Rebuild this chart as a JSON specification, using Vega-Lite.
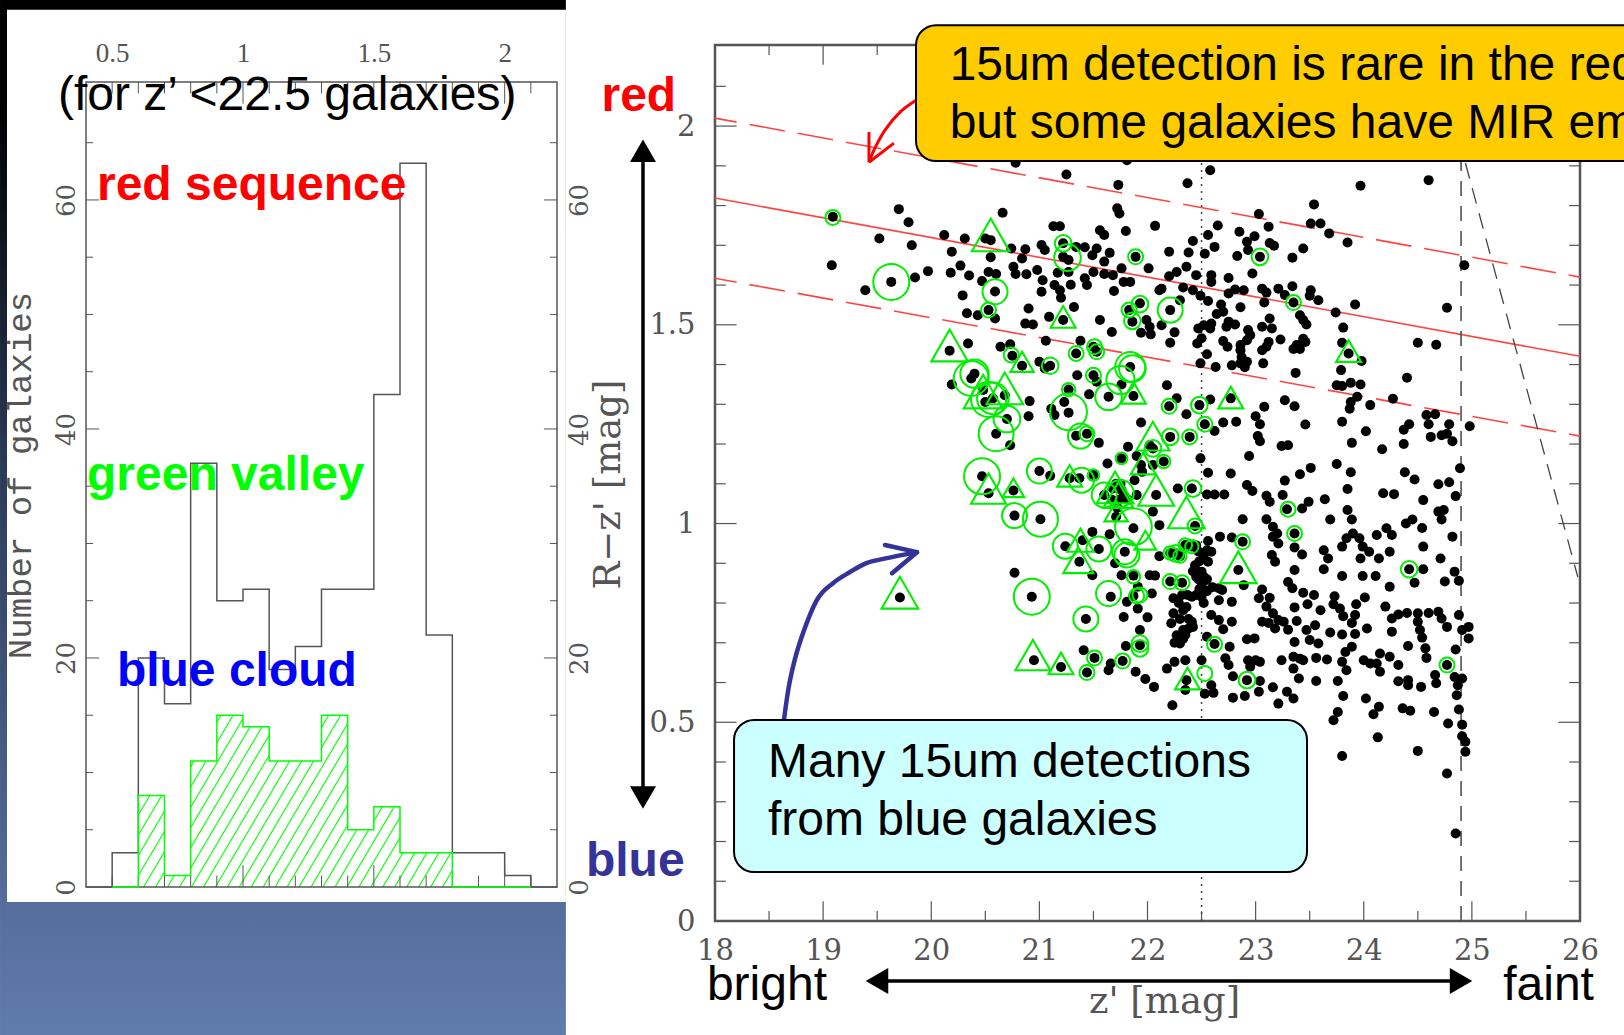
{"$schema":"https://vega.github.io/schema/vega-lite/v6.json","width":1624,"height":1035,"padding":0,"autosize":{"type":"none"},"background":"#ffffff","config":{"view":{"stroke":null},"axis":{"grid":false,"ticks":false,"domain":false,"titleFontWeight":"normal","labelFlush":false,"labelOverlap":false}},
"datasets":{
"black":[{"x":0.4,"y":0},{"x":0.5,"y":3},{"x":0.6,"y":20},{"x":0.7,"y":16},{"x":0.8,"y":37},{"x":0.9,"y":25},{"x":1.0,"y":26},{"x":1.1,"y":19},{"x":1.2,"y":21},{"x":1.3,"y":26},{"x":1.4,"y":26},{"x":1.5,"y":43},{"x":1.6,"y":63.2},{"x":1.7,"y":22},{"x":1.8,"y":3},{"x":1.9,"y":3},{"x":2.0,"y":1},{"x":2.1,"y":0},{"x":2.2,"y":0}],
"green":[{"x":0.5,"y":0},{"x":0.6,"y":8},{"x":0.7,"y":1},{"x":0.8,"y":11},{"x":0.9,"y":15},{"x":1.0,"y":14},{"x":1.1,"y":11},{"x":1.2,"y":11},{"x":1.3,"y":15},{"x":1.4,"y":5},{"x":1.5,"y":7},{"x":1.6,"y":3},{"x":1.7,"y":3},{"x":1.8,"y":0},{"x":1.9,"y":0},{"x":2.0,"y":0},{"x":2.1,"y":0}],
"dots":[
{"x":19.09,"y":1.772},{"x":19.70,"y":1.791},{"x":19.79,"y":1.758},{"x":19.52,"y":1.717},{"x":19.82,"y":1.700},{"x":19.08,"y":1.650},{"x":19.63,"y":1.608},{"x":19.39,"y":1.587},{"x":19.85,"y":1.619},{"x":19.97,"y":1.635},{"x":20.12,"y":1.726},{"x":20.31,"y":1.717},{"x":20.19,"y":1.684},{"x":20.27,"y":1.649},{"x":20.18,"y":1.631},{"x":20.35,"y":1.624},{"x":20.50,"y":1.717},{"x":20.55,"y":1.713},{"x":20.66,"y":1.782},{"x":20.55,"y":1.670},{"x":20.53,"y":1.633},{"x":20.60,"y":1.628},{"x":20.47,"y":1.610},{"x":20.29,"y":1.574},{"x":20.59,"y":1.584},{"x":20.33,"y":1.529},{"x":20.43,"y":1.524},{"x":20.53,"y":1.537},{"x":20.59,"y":1.516},{"x":20.74,"y":1.692},{"x":20.87,"y":1.690},{"x":20.84,"y":1.667},{"x":20.76,"y":1.646},{"x":20.78,"y":1.628},{"x":20.88,"y":1.627},{"x":20.98,"y":1.638},{"x":21.02,"y":1.701},{"x":21.05,"y":1.688},{"x":21.13,"y":1.748},{"x":21.19,"y":1.748},{"x":21.22,"y":1.671},{"x":21.27,"y":1.663},{"x":21.17,"y":1.631},{"x":21.27,"y":1.633},{"x":21.03,"y":1.612},{"x":21.02,"y":1.583},{"x":21.14,"y":1.600},{"x":21.19,"y":1.587},{"x":21.20,"y":1.568},{"x":21.29,"y":1.601},{"x":20.90,"y":1.541},{"x":21.09,"y":1.520},{"x":21.32,"y":1.545},{"x":21.22,"y":1.512},{"x":20.87,"y":1.503},{"x":20.94,"y":1.501},{"x":21.22,"y":1.705},{"x":21.34,"y":1.696},{"x":21.42,"y":1.695},{"x":21.53,"y":1.692},{"x":21.49,"y":1.675},{"x":21.60,"y":1.659},{"x":21.65,"y":1.681},{"x":21.56,"y":1.738},{"x":21.60,"y":1.726},{"x":21.80,"y":1.736},{"x":22.07,"y":1.749},{"x":21.72,"y":1.793},{"x":21.74,"y":1.780},{"x":21.73,"y":1.852},{"x":21.25,"y":1.878},{"x":20.78,"y":1.908},{"x":21.81,"y":1.914},{"x":21.89,"y":1.671},{"x":22.01,"y":1.642},{"x":21.50,"y":1.633},{"x":21.60,"y":1.628},{"x":21.68,"y":1.625},{"x":21.76,"y":1.642},{"x":21.78,"y":1.608},{"x":21.84,"y":1.608},{"x":21.42,"y":1.617},{"x":21.44,"y":1.600},{"x":21.69,"y":1.585},{"x":21.56,"y":1.512},{"x":21.67,"y":1.482},{"x":21.93,"y":1.554},{"x":21.83,"y":1.537},{"x":21.86,"y":1.508},{"x":21.99,"y":1.512},{"x":22.02,"y":1.495},{"x":21.94,"y":1.480},{"x":22.03,"y":1.476},{"x":22.11,"y":1.587},{"x":20.34,"y":1.453},{"x":20.17,"y":1.435},{"x":20.64,"y":1.445},{"x":20.73,"y":1.451},{"x":20.75,"y":1.422},{"x":20.84,"y":1.397},{"x":21.00,"y":1.407},{"x":21.05,"y":1.390},{"x":21.10,"y":1.397},{"x":21.06,"y":1.460},{"x":21.34,"y":1.428},{"x":21.38,"y":1.460},{"x":21.50,"y":1.445},{"x":21.53,"y":1.432},{"x":21.35,"y":1.373},{"x":21.50,"y":1.373},{"x":21.53,"y":1.357},{"x":21.27,"y":1.337},{"x":21.46,"y":1.325},{"x":21.23,"y":1.306},{"x":21.27,"y":1.279},{"x":21.11,"y":1.289},{"x":21.14,"y":1.273},{"x":21.34,"y":1.221},{"x":21.44,"y":1.226},{"x":21.55,"y":1.203},{"x":21.76,"y":1.350},{"x":21.84,"y":1.394},{"x":21.64,"y":1.319},{"x":21.87,"y":1.321},{"x":21.94,"y":1.254},{"x":21.82,"y":1.193},{"x":22.02,"y":1.197},{"x":20.19,"y":1.350},{"x":20.40,"y":1.377},{"x":20.37,"y":1.365},{"x":20.48,"y":1.336},{"x":20.57,"y":1.315},{"x":20.50,"y":1.306},{"x":20.68,"y":1.323},{"x":20.91,"y":1.308},{"x":20.90,"y":1.270},{"x":20.70,"y":1.263},{"x":20.60,"y":1.226},{"x":20.73,"y":1.197},
{"x":22.58,"y":1.889},{"x":22.37,"y":1.856},{"x":23.97,"y":1.850},{"x":24.60,"y":1.864},{"x":23.54,"y":1.803},{"x":23.03,"y":1.779},{"x":23.51,"y":1.755},{"x":23.60,"y":1.755},{"x":23.68,"y":1.730},{"x":23.85,"y":1.707},{"x":23.12,"y":1.747},{"x":22.65,"y":1.750},{"x":22.85,"y":1.734},{"x":22.56,"y":1.726},{"x":22.99,"y":1.723},{"x":22.42,"y":1.711},{"x":22.92,"y":1.709},{"x":23.13,"y":1.706},{"x":23.17,"y":1.699},{"x":22.62,"y":1.696},{"x":22.93,"y":1.688},{"x":23.44,"y":1.692},{"x":23.34,"y":1.669},{"x":23.04,"y":1.671},{"x":22.83,"y":1.673},{"x":22.20,"y":1.684},{"x":22.38,"y":1.682},{"x":22.53,"y":1.679},{"x":24.93,"y":1.650},{"x":22.36,"y":1.646},{"x":22.27,"y":1.633},{"x":22.20,"y":1.622},{"x":22.45,"y":1.625},{"x":22.59,"y":1.625},{"x":22.59,"y":1.608},{"x":22.75,"y":1.618},{"x":22.97,"y":1.629},{"x":22.13,"y":1.591},{"x":22.33,"y":1.594},{"x":22.42,"y":1.587},{"x":22.49,"y":1.573},{"x":22.56,"y":1.560},{"x":22.30,"y":1.562},{"x":22.75,"y":1.579},{"x":22.81,"y":1.589},{"x":22.89,"y":1.587},{"x":23.06,"y":1.591},{"x":23.10,"y":1.581},{"x":23.21,"y":1.591},{"x":23.27,"y":1.575},{"x":23.34,"y":1.597},{"x":23.35,"y":1.556},{"x":23.51,"y":1.587},{"x":23.50,"y":1.573},{"x":23.58,"y":1.562},{"x":23.92,"y":1.551},{"x":24.77,"y":1.543},{"x":23.74,"y":1.531},{"x":23.08,"y":1.556},{"x":22.86,"y":1.544},{"x":22.68,"y":1.551},{"x":22.64,"y":1.527},{"x":22.70,"y":1.533},{"x":22.21,"y":1.537},{"x":23.41,"y":1.524},{"x":23.44,"y":1.512},{"x":23.47,"y":1.501},{"x":23.81,"y":1.493},{"x":23.13,"y":1.516},{"x":23.15,"y":1.491},{"x":23.06,"y":1.495},{"x":22.75,"y":1.508},{"x":22.81,"y":1.501},{"x":22.73,"y":1.495},{"x":22.59,"y":1.503},{"x":22.52,"y":1.499},{"x":22.47,"y":1.491},{"x":22.58,"y":1.491},{"x":22.13,"y":1.499},{"x":22.25,"y":1.481},{"x":22.93,"y":1.487},{"x":22.95,"y":1.474},{"x":22.86,"y":1.449},{"x":22.92,"y":1.461},{"x":23.23,"y":1.463},{"x":23.44,"y":1.465},{"x":23.46,"y":1.457},{"x":23.38,"y":1.449},{"x":23.41,"y":1.439},{"x":23.35,"y":1.439},{"x":23.12,"y":1.457},{"x":23.10,"y":1.445},{"x":23.06,"y":1.436},{"x":22.70,"y":1.459},{"x":22.74,"y":1.445},{"x":22.50,"y":1.466},{"x":22.46,"y":1.453},{"x":22.21,"y":1.455},{"x":23.80,"y":1.455},{"x":24.50,"y":1.455},{"x":24.67,"y":1.450},{"x":23.86,"y":1.428},{"x":23.98,"y":1.409},{"x":23.79,"y":1.386},{"x":22.55,"y":1.426},{"x":22.49,"y":1.403},{"x":22.63,"y":1.394},{"x":22.78,"y":1.398},{"x":22.86,"y":1.403},{"x":22.92,"y":1.407},{"x":22.90,"y":1.393},{"x":22.86,"y":1.436},{"x":22.87,"y":1.419},{"x":23.07,"y":1.403},{"x":23.37,"y":1.379},{"x":24.40,"y":1.367},{"x":23.75,"y":1.348},{"x":23.80,"y":1.346},{"x":23.88,"y":1.354},{"x":23.97,"y":1.350},{"x":22.18,"y":1.348},{"x":22.27,"y":1.315},{"x":22.58,"y":1.312},{"x":22.77,"y":1.315},{"x":22.48,"y":1.298},{"x":22.20,"y":1.295},{"x":22.36,"y":1.275},{"x":22.53,"y":1.250},{"x":22.62,"y":1.233},{"x":22.70,"y":1.254},{"x":22.82,"y":1.256},{"x":23.08,"y":1.294},{"x":23.27,"y":1.310},{"x":23.36,"y":1.295},{"x":23.00,"y":1.270},{"x":23.04,"y":1.250},{"x":23.46,"y":1.249},{"x":23.94,"y":1.319},{"x":23.88,"y":1.306},{"x":23.87,"y":1.289},{"x":24.06,"y":1.298},{"x":24.27,"y":1.314},{"x":23.80,"y":1.256},{"x":24.02,"y":1.232},{"x":24.58,"y":1.273},{"x":24.66,"y":1.275},{"x":24.60,"y":1.250},{"x":24.79,"y":1.250},{"x":24.98,"y":1.245},{"x":24.42,"y":1.250},{"x":24.37,"y":1.236},{"x":24.62,"y":1.218},{"x":24.72,"y":1.222},{"x":24.77,"y":1.226},{"x":24.82,"y":1.207},{"x":23.89,"y":1.203},{"x":24.37,"y":1.200},{"x":24.17,"y":1.187},{"x":23.02,"y":1.220},{"x":23.04,"y":1.207},{"x":23.24,"y":1.195},{"x":23.30,"y":1.197},{"x":22.21,"y":1.218},{"x":22.39,"y":1.218},
{"x":22.94,"y":1.170},{"x":22.49,"y":1.164},{"x":23.75,"y":1.150},{"x":23.51,"y":1.140},{"x":23.41,"y":1.124},{"x":23.88,"y":1.129},{"x":22.56,"y":1.128},{"x":22.77,"y":1.126},{"x":24.38,"y":1.129},{"x":24.47,"y":1.111},{"x":24.69,"y":1.099},{"x":24.79,"y":1.104},{"x":24.89,"y":1.139},{"x":23.27,"y":1.108},{"x":23.85,"y":1.087},{"x":22.92,"y":1.097},{"x":22.97,"y":1.082},{"x":22.28,"y":1.088},{"x":22.41,"y":1.088},{"x":22.55,"y":1.073},{"x":22.62,"y":1.073},{"x":22.71,"y":1.073},{"x":23.25,"y":1.072},{"x":23.10,"y":1.070},{"x":23.13,"y":1.055},{"x":24.18,"y":1.076},{"x":24.28,"y":1.074},{"x":24.85,"y":1.069},{"x":24.55,"y":1.059},{"x":23.64,"y":1.061},{"x":23.49,"y":1.055},{"x":23.43,"y":1.038},{"x":23.29,"y":1.036},{"x":23.85,"y":1.034},{"x":23.89,"y":1.010},{"x":23.69,"y":1.010},{"x":22.88,"y":1.011},{"x":23.10,"y":1.011},{"x":24.39,"y":1.000},{"x":24.45,"y":1.010},{"x":24.74,"y":1.034},{"x":24.69,"y":1.030},{"x":24.72,"y":1.010},{"x":24.54,"y":0.989},{"x":23.16,"y":0.992},{"x":23.20,"y":0.975},{"x":23.16,"y":0.967},{"x":23.21,"y":0.950},{"x":23.36,"y":0.975},{"x":22.67,"y":0.967},{"x":22.56,"y":0.956},{"x":22.78,"y":0.965},{"x":22.88,"y":0.954},{"x":24.82,"y":0.967},{"x":24.12,"y":0.971},{"x":24.21,"y":0.988},{"x":24.26,"y":0.971},{"x":23.90,"y":0.975},{"x":23.84,"y":0.963},{"x":23.96,"y":0.963},{"x":23.80,"y":0.942},{"x":23.99,"y":0.942},{"x":24.55,"y":0.942},{"x":23.36,"y":0.940},{"x":23.43,"y":0.922},{"x":23.63,"y":0.933},{"x":23.67,"y":0.912},{"x":23.63,"y":0.885},{"x":23.97,"y":0.912},{"x":24.05,"y":0.929},{"x":24.14,"y":0.912},{"x":24.24,"y":0.929},{"x":23.15,"y":0.921},{"x":23.18,"y":0.904},{"x":24.71,"y":0.912},{"x":24.42,"y":0.885},{"x":24.55,"y":0.885},{"x":23.36,"y":0.883},{"x":23.80,"y":0.868},{"x":23.99,"y":0.868},{"x":24.11,"y":0.868},{"x":24.84,"y":0.879},{"x":24.88,"y":0.856},{"x":24.75,"y":0.854},{"x":24.47,"y":0.851},{"x":24.24,"y":0.841},{"x":23.30,"y":0.853},{"x":23.34,"y":0.837},{"x":23.44,"y":0.826},{"x":23.54,"y":0.820},{"x":23.06,"y":0.834},{"x":23.03,"y":0.812},{"x":23.13,"y":0.813},{"x":23.10,"y":0.791},{"x":23.16,"y":0.774},{"x":23.48,"y":0.797},{"x":23.36,"y":0.789},{"x":23.60,"y":0.782},{"x":23.73,"y":0.817},{"x":23.72,"y":0.797},{"x":23.78,"y":0.786},{"x":23.81,"y":0.767},{"x":23.93,"y":0.797},{"x":24.01,"y":0.814},{"x":23.92,"y":0.770},{"x":23.89,"y":0.750},{"x":24.20,"y":0.791},{"x":24.26,"y":0.761},{"x":24.32,"y":0.771},{"x":24.40,"y":0.775},{"x":24.50,"y":0.774},{"x":24.60,"y":0.775},{"x":24.69,"y":0.778},{"x":24.72,"y":0.761},{"x":24.77,"y":0.740},{"x":24.50,"y":0.753},{"x":24.52,"y":0.732},{"x":24.54,"y":0.713},{"x":24.88,"y":0.770},{"x":24.97,"y":0.740},{"x":24.91,"y":0.732},{"x":24.97,"y":0.711},{"x":23.21,"y":0.757},{"x":23.26,"y":0.753},{"x":23.06,"y":0.753},{"x":23.12,"y":0.750},{"x":23.18,"y":0.736},{"x":23.30,"y":0.733},{"x":23.38,"y":0.755},{"x":23.47,"y":0.732},{"x":23.55,"y":0.744},{"x":23.50,"y":0.707},{"x":23.58,"y":0.698},{"x":23.69,"y":0.726},{"x":23.80,"y":0.721},{"x":23.92,"y":0.722},{"x":24.03,"y":0.736},{"x":24.26,"y":0.728},{"x":24.41,"y":0.692},{"x":23.36,"y":0.702},{"x":23.89,"y":0.690},{"x":23.83,"y":0.677},{"x":23.80,"y":0.652},{"x":23.84,"y":0.631},{"x":24.00,"y":0.656},{"x":24.06,"y":0.648},{"x":24.15,"y":0.673},{"x":24.12,"y":0.648},{"x":24.15,"y":0.627},{"x":24.24,"y":0.665},{"x":24.32,"y":0.644},{"x":24.57,"y":0.686},{"x":24.58,"y":0.662},{"x":24.85,"y":0.683},{"x":24.77,"y":0.644},{"x":24.66,"y":0.619},{"x":24.67,"y":0.598},{"x":24.53,"y":0.589},{"x":24.32,"y":0.603},{"x":24.41,"y":0.606},{"x":24.41,"y":0.593},{"x":24.84,"y":0.614},{"x":24.91,"y":0.610},{"x":24.87,"y":0.593},{"x":24.86,"y":0.568},{"x":24.88,"y":0.532},{"x":24.78,"y":0.497},{"x":24.91,"y":0.494},{"x":23.81,"y":0.566},{"x":24.02,"y":0.560},{"x":24.14,"y":0.539},{"x":24.09,"y":0.520},{"x":24.36,"y":0.535},{"x":24.43,"y":0.529},{"x":24.65,"y":0.526},{"x":23.76,"y":0.526},{"x":23.72,"y":0.505},{"x":24.91,"y":0.465},{"x":24.94,"y":0.451},{"x":24.94,"y":0.426},{"x":24.50,"y":0.428},{"x":24.13,"y":0.462},{"x":23.80,"y":0.415},{"x":24.77,"y":0.371},{"x":24.85,"y":0.220},{"x":23.24,"y":0.656},{"x":23.35,"y":0.665},{"x":23.41,"y":0.660},{"x":23.44,"y":0.656},{"x":23.35,"y":0.635},{"x":23.40,"y":0.610},{"x":23.56,"y":0.604},{"x":23.76,"y":0.604},{"x":23.56,"y":0.662},{"x":23.66,"y":0.658},{"x":23.00,"y":0.656},{"x":22.93,"y":0.656},{"x":23.04,"y":0.652},{"x":22.95,"y":0.640},{"x":22.79,"y":0.616},{"x":23.04,"y":0.604},{"x":22.92,"y":0.606},{"x":23.16,"y":0.588},{"x":23.29,"y":0.577},{"x":23.35,"y":0.560},{"x":23.03,"y":0.577},{"x":23.21,"y":0.547},{"x":22.90,"y":0.566},{"x":22.79,"y":0.562},{"x":22.61,"y":0.574},{"x":22.53,"y":0.572},{"x":22.59,"y":0.593},{"x":22.35,"y":0.656},{"x":22.50,"y":0.656},{"x":22.25,"y":0.652},{"x":22.18,"y":0.635},{"x":22.36,"y":0.606},{"x":22.35,"y":0.581},{"x":22.23,"y":0.543},{"x":22.72,"y":0.661},{"x":22.75,"y":0.644},{"x":22.76,"y":0.690},{"x":22.62,"y":0.697},{"x":22.55,"y":0.715},{"x":22.70,"y":0.734},{"x":22.78,"y":0.753},{"x":22.92,"y":0.709},{"x":22.99,"y":0.711},{"x":22.59,"y":0.770},{"x":22.66,"y":0.757},{"x":22.24,"y":0.774},{"x":22.33,"y":0.782},{"x":22.22,"y":0.749},{"x":22.33,"y":0.732},{"x":22.41,"y":0.753},{"x":22.38,"y":0.736},{"x":22.27,"y":0.719},{"x":22.30,"y":0.698},{"x":22.50,"y":0.816},{"x":22.50,"y":0.841},{"x":22.45,"y":0.866},{"x":22.52,"y":0.866},{"x":22.66,"y":0.837},{"x":22.69,"y":0.833},{"x":22.66,"y":0.807},{"x":22.78,"y":0.803},{"x":22.24,"y":0.812},{"x":22.32,"y":0.820},{"x":22.41,"y":0.816},{"x":22.55,"y":0.933},{"x":22.59,"y":0.929},{"x":22.56,"y":0.904},{"x":22.50,"y":0.879},{"x":22.84,"y":0.883},{"x":22.52,"y":0.854},{"x":22.89,"y":0.845},
{"x":20.47,"y":1.119},{"x":20.53,"y":1.076},{"x":20.76,"y":1.083},{"x":21.00,"y":1.132},{"x":21.10,"y":1.120},{"x":21.28,"y":1.114},{"x":21.37,"y":1.114},{"x":21.50,"y":1.122},{"x":21.63,"y":1.151},{"x":21.76,"y":1.164},{"x":21.88,"y":1.109},{"x":21.94,"y":1.147},{"x":22.05,"y":1.147},{"x":22.08,"y":1.072},{"x":21.90,"y":1.072},{"x":21.68,"y":1.088},{"x":21.76,"y":1.084},{"x":21.60,"y":1.072},{"x":20.77,"y":1.020},{"x":21.01,"y":1.011},{"x":21.71,"y":1.017},{"x":22.05,"y":1.030},{"x":22.11,"y":0.996},{"x":21.87,"y":0.988},{"x":21.65,"y":0.973},{"x":21.49,"y":0.979},{"x":21.40,"y":0.958},{"x":21.24,"y":0.943},{"x":21.55,"y":0.936},{"x":21.79,"y":0.929},{"x":21.37,"y":0.904},{"x":21.49,"y":0.870},{"x":21.70,"y":0.900},{"x":20.77,"y":0.876},{"x":21.76,"y":0.870},{"x":21.87,"y":0.869},{"x":22.02,"y":0.870},{"x":22.07,"y":0.869},{"x":22.11,"y":0.918},{"x":21.91,"y":0.841},{"x":22.04,"y":0.824},{"x":21.66,"y":0.816},{"x":21.81,"y":0.803},{"x":21.91,"y":0.786},{"x":21.87,"y":0.818},{"x":21.78,"y":0.765},{"x":22.00,"y":0.764},{"x":20.93,"y":0.816},{"x":21.43,"y":0.760},{"x":21.93,"y":0.732},{"x":21.93,"y":0.694},{"x":21.80,"y":0.692},{"x":21.41,"y":0.681},{"x":21.51,"y":0.662},{"x":19.71,"y":0.814},{"x":20.95,"y":0.656},{"x":21.20,"y":0.639},{"x":21.44,"y":0.625},{"x":21.66,"y":0.648},{"x":21.64,"y":0.631},{"x":21.77,"y":0.654},{"x":21.89,"y":0.627},{"x":21.98,"y":0.609},{"x":22.06,"y":0.589},
{"x":22.35,"y":0.946},{"x":22.41,"y":0.942},{"x":22.26,"y":0.925},{"x":22.30,"y":0.918},{"x":22.21,"y":0.926},{"x":22.21,"y":0.854},{"x":22.32,"y":0.851},{"x":22.44,"y":0.994},{"x":22.15,"y":1.156},{"x":22.05,"y":1.189},{"x":22.45,"y":0.945},{"x":22.47,"y":0.93},{"x":22.52,"y":0.92},{"x":22.48,"y":0.905},{"x":22.44,"y":0.895},{"x":22.42,"y":0.88},{"x":22.47,"y":0.86},{"x":22.55,"y":0.86},{"x":22.48,"y":0.835},{"x":22.55,"y":0.83},{"x":22.60,"y":0.84},{"x":22.45,"y":0.82},{"x":22.52,"y":0.80},{"x":22.36,"y":0.79},{"x":22.29,"y":0.80},{"x":22.37,"y":0.82},{"x":22.30,"y":0.76},{"x":22.38,"y":0.76},{"x":22.42,"y":0.74},{"x":22.35,"y":0.72},{"x":22.25,"y":0.70},{"x":22.33,"y":0.71},{"x":21.67,"y":1.06},{"x":21.72,"y":1.04},{"x":21.74,"y":1.06},{"x":21.78,"y":1.07},{"x":21.71,"y":1.10},{"x":21.75,"y":1.10},{"x":21.82,"y":1.06},{"x":21.90,"y":1.17},{"x":21.95,"y":1.13}],
"circles":[{"x":19.09,"y":1.770,"flux":225},{"x":19.63,"y":1.608,"flux":1296},{"x":20.59,"y":1.583,"flux":625},{"x":20.53,"y":1.537,"flux":225},{"x":21.22,"y":1.705,"flux":280},{"x":21.26,"y":1.669,"flux":710},{"x":21.89,"y":1.671,"flux":225},{"x":21.93,"y":1.552,"flux":280},{"x":21.83,"y":1.537,"flux":225},{"x":21.86,"y":1.510,"flux":280},{"x":22.21,"y":1.537,"flux":625},{"x":20.74,"y":1.424,"flux":225},{"x":21.10,"y":1.397,"flux":280},{"x":21.34,"y":1.428,"flux":225},{"x":21.51,"y":1.445,"flux":225},{"x":21.53,"y":1.432,"flux":225},{"x":21.50,"y":1.373,"flux":225},{"x":21.27,"y":1.337,"flux":180},{"x":21.84,"y":1.394,"flux":900},{"x":21.86,"y":1.390,"flux":710},{"x":21.75,"y":1.361,"flux":800},{"x":21.64,"y":1.319,"flux":710},{"x":20.37,"y":1.365,"flux":1225},{"x":20.40,"y":1.377,"flux":800},{"x":20.53,"y":1.312,"flux":1225},{"x":20.57,"y":1.315,"flux":1000},{"x":20.70,"y":1.263,"flux":710},{"x":20.60,"y":1.226,"flux":1225},{"x":21.27,"y":1.281,"flux":1350},{"x":21.38,"y":1.220,"flux":625},{"x":21.44,"y":1.226,"flux":225},{"x":23.04,"y":1.671,"flux":280},{"x":23.35,"y":1.556,"flux":225},{"x":22.48,"y":1.298,"flux":280},{"x":22.20,"y":1.295,"flux":225},{"x":22.53,"y":1.250,"flux":225},{"x":22.21,"y":1.218,"flux":280},{"x":22.39,"y":1.218,"flux":225},{"x":22.15,"y":1.156,"flux":180},{"x":22.42,"y":1.088,"flux":280},{"x":23.30,"y":1.036,"flux":225},{"x":23.36,"y":0.975,"flux":225},{"x":22.35,"y":0.946,"flux":180},{"x":22.41,"y":0.942,"flux":180},{"x":22.26,"y":0.925,"flux":280},{"x":22.30,"y":0.918,"flux":180},{"x":22.21,"y":0.926,"flux":180},{"x":22.88,"y":0.954,"flux":225},{"x":22.21,"y":0.854,"flux":225},{"x":22.32,"y":0.851,"flux":225},{"x":22.44,"y":0.994,"flux":225},{"x":24.42,"y":0.885,"flux":280},{"x":22.62,"y":0.696,"flux":225},{"x":22.92,"y":0.606,"flux":280},{"x":22.53,"y":0.623,"flux":225},{"x":24.77,"y":0.644,"flux":225},{"x":20.47,"y":1.119,"flux":1296},{"x":21.00,"y":1.132,"flux":625},{"x":21.39,"y":1.109,"flux":625},{"x":21.50,"y":1.122,"flux":140},{"x":20.77,"y":1.020,"flux":625},{"x":21.01,"y":1.011,"flux":1225},{"x":21.60,"y":1.072,"flux":625},{"x":21.87,"y":0.992,"flux":1350},{"x":21.24,"y":0.943,"flux":625},{"x":21.55,"y":0.936,"flux":625},{"x":21.79,"y":0.929,"flux":625},{"x":21.81,"y":0.921,"flux":625},{"x":21.64,"y":0.824,"flux":625},{"x":21.43,"y":0.760,"flux":625},{"x":20.93,"y":0.816,"flux":1296},{"x":21.90,"y":0.818,"flux":225},{"x":21.93,"y":0.820,"flux":225},{"x":21.93,"y":0.698,"flux":280},{"x":21.93,"y":0.686,"flux":280},{"x":21.51,"y":0.662,"flux":225},{"x":21.77,"y":0.654,"flux":225},{"x":21.44,"y":0.625,"flux":225},{"x":21.76,"y":1.164,"flux":140},{"x":21.87,"y":0.866,"flux":180},{"x":22.05,"y":1.189,"flux":280},{"x":21.75,"y":1.076,"flux":710}],
"triangles":[{"x":20.55,"y":1.726,"flux":1420},{"x":20.17,"y":1.448,"flux":1345},{"x":20.84,"y":1.407,"flux":540},{"x":21.22,"y":1.520,"flux":625},{"x":20.68,"y":1.340,"flux":1345},{"x":20.48,"y":1.332,"flux":1500},{"x":21.87,"y":1.329,"flux":625},{"x":22.05,"y":1.220,"flux":1100},{"x":23.86,"y":1.434,"flux":625},{"x":22.77,"y":1.317,"flux":625},{"x":22.84,"y":0.890,"flux":1345},{"x":22.36,"y":1.028,"flux":1345},{"x":22.37,"y":0.610,"flux":625},{"x":19.71,"y":0.826,"flux":1345},{"x":20.53,"y":1.088,"flux":1225},{"x":20.76,"y":1.090,"flux":470},{"x":21.28,"y":1.120,"flux":625},{"x":20.94,"y":0.669,"flux":1225},{"x":21.20,"y":0.648,"flux":625},{"x":22.08,"y":1.084,"flux":1300},{"x":21.38,"y":0.958,"flux":710},{"x":21.36,"y":0.908,"flux":900},{"x":21.98,"y":0.958,"flux":470},{"x":21.71,"y":1.031,"flux":550},{"x":21.70,"y":1.091,"flux":1345},{"x":21.96,"y":1.151,"flux":625},{"x":21.73,"y":1.072,"flux":900}],
"xticks":[{"x":18.5,"y":0,"y2":0.025},{"x":19,"y":0,"y2":0.05},{"x":19.5,"y":0,"y2":0.025},{"x":20,"y":0,"y2":0.05},{"x":20.5,"y":0,"y2":0.025},{"x":21,"y":0,"y2":0.05},{"x":21.5,"y":0,"y2":0.025},{"x":22,"y":0,"y2":0.05},{"x":22.5,"y":0,"y2":0.025},{"x":23,"y":0,"y2":0.05},{"x":23.5,"y":0,"y2":0.025},{"x":24,"y":0,"y2":0.05},{"x":24.5,"y":0,"y2":0.025},{"x":25,"y":0,"y2":0.05},{"x":25.5,"y":0,"y2":0.025},{"x":18.5,"y":2.204,"y2":2.179},{"x":19,"y":2.204,"y2":2.154},{"x":19.5,"y":2.204,"y2":2.179}],
"yticks":[{"x":18,"x2":18.1,"y":0.1},{"x":18,"x2":18.1,"y":0.2},{"x":18,"x2":18.1,"y":0.3},{"x":18,"x2":18.1,"y":0.4},{"x":18,"x2":18.2,"y":0.5},{"x":18,"x2":18.1,"y":0.6},{"x":18,"x2":18.1,"y":0.7},{"x":18,"x2":18.1,"y":0.8},{"x":18,"x2":18.1,"y":0.9},{"x":18,"x2":18.2,"y":1},{"x":18,"x2":18.1,"y":1.1},{"x":18,"x2":18.1,"y":1.2},{"x":18,"x2":18.1,"y":1.3},{"x":18,"x2":18.1,"y":1.4},{"x":18,"x2":18.2,"y":1.5},{"x":18,"x2":18.1,"y":1.6},{"x":18,"x2":18.1,"y":1.7},{"x":18,"x2":18.1,"y":1.8},{"x":18,"x2":18.1,"y":1.9},{"x":18,"x2":18.2,"y":2},{"x":18,"x2":18.1,"y":2.1},{"x":26,"x2":25.9,"y":0.1},{"x":26,"x2":25.9,"y":0.2},{"x":26,"x2":25.9,"y":0.3},{"x":26,"x2":25.9,"y":0.4},{"x":26,"x2":25.8,"y":0.5},{"x":26,"x2":25.9,"y":0.6},{"x":26,"x2":25.9,"y":0.7},{"x":26,"x2":25.9,"y":0.8},{"x":26,"x2":25.9,"y":0.9},{"x":26,"x2":25.8,"y":1},{"x":26,"x2":25.9,"y":1.1},{"x":26,"x2":25.9,"y":1.2},{"x":26,"x2":25.9,"y":1.3},{"x":26,"x2":25.9,"y":1.4},{"x":26,"x2":25.8,"y":1.5},{"x":26,"x2":25.9,"y":1.6},{"x":26,"x2":25.9,"y":1.7},{"x":26,"x2":25.9,"y":1.8},{"x":26,"x2":25.9,"y":1.9},{"x":26,"x2":25.8,"y":2},{"x":26,"x2":25.9,"y":2.1}],
"hxticks":[{"x":0.5,"y":0,"y2":1},{"x":0.6,"y":0,"y2":1},{"x":0.7,"y":0,"y2":1},{"x":0.8,"y":0,"y2":1},{"x":0.9,"y":0,"y2":1},{"x":1.0,"y":0,"y2":1.9},{"x":1.1,"y":0,"y2":1},{"x":1.2,"y":0,"y2":1},{"x":1.3,"y":0,"y2":1},{"x":1.4,"y":0,"y2":1},{"x":1.5,"y":0,"y2":1.9},{"x":1.6,"y":0,"y2":1},{"x":1.7,"y":0,"y2":1},{"x":1.8,"y":0,"y2":1},{"x":1.9,"y":0,"y2":1},{"x":2.0,"y":0,"y2":1.9},{"x":2.1,"y":0,"y2":1},{"x":0.5,"y":70.3,"y2":69.3},{"x":0.6,"y":70.3,"y2":69.3},{"x":0.7,"y":70.3,"y2":69.3},{"x":0.8,"y":70.3,"y2":69.3},{"x":0.9,"y":70.3,"y2":69.3},{"x":1.0,"y":70.3,"y2":68.4},{"x":1.1,"y":70.3,"y2":69.3},{"x":1.2,"y":70.3,"y2":69.3},{"x":1.3,"y":70.3,"y2":69.3},{"x":1.4,"y":70.3,"y2":69.3},{"x":1.5,"y":70.3,"y2":68.4},{"x":1.6,"y":70.3,"y2":69.3},{"x":1.7,"y":70.3,"y2":69.3},{"x":1.8,"y":70.3,"y2":69.3},{"x":1.9,"y":70.3,"y2":69.3},{"x":2.0,"y":70.3,"y2":68.4},{"x":2.1,"y":70.3,"y2":69.3}],
"hyticks":[{"x":0.4,"x2":0.427,"y":5},{"x":0.4,"x2":0.427,"y":10},{"x":0.4,"x2":0.427,"y":15},{"x":0.4,"x2":0.45,"y":20},{"x":0.4,"x2":0.427,"y":25},{"x":0.4,"x2":0.427,"y":30},{"x":0.4,"x2":0.427,"y":35},{"x":0.4,"x2":0.45,"y":40},{"x":0.4,"x2":0.427,"y":45},{"x":0.4,"x2":0.427,"y":50},{"x":0.4,"x2":0.427,"y":55},{"x":0.4,"x2":0.45,"y":60},{"x":0.4,"x2":0.427,"y":65}],
"hyticksR":[{"x":2.2,"x2":2.173,"y":5},{"x":2.2,"x2":2.173,"y":10},{"x":2.2,"x2":2.173,"y":15},{"x":2.2,"x2":2.15,"y":20},{"x":2.2,"x2":2.173,"y":25},{"x":2.2,"x2":2.173,"y":30},{"x":2.2,"x2":2.173,"y":35},{"x":2.2,"x2":2.15,"y":40},{"x":2.2,"x2":2.173,"y":45},{"x":2.2,"x2":2.173,"y":50},{"x":2.2,"x2":2.173,"y":55},{"x":2.2,"x2":2.15,"y":60},{"x":2.2,"x2":2.173,"y":65}]
},
"layer":[
{"encoding":{"x":{"field":"x","type":"quantitative","scale":{"domain":[0.4,2.2],"range":[86,557],"nice":false,"zero":false},"axis":{"zindex":1,"orient":"top","offset":-82,"values":[0.5,1,1.5,2],"labelExpr":"''+datum.value","labelFont":"Liberation Serif","labelFontSize":27,"labelColor":"#555555","labelPadding":15,"title":null}},
"y":{"field":"y","type":"quantitative","scale":{"domain":[0,70.3],"range":[887,82],"nice":false,"zero":false},"axis":{"zindex":1,"orient":"left","offset":-86,"values":[0,20,40,60],"labelAngle":-90,"labelAlign":"center","labelBaseline":"bottom","labelFont":"DejaVu Serif","labelFontSize":26,"labelColor":"#555555","labelPadding":7,"title":"Number of galaxies","titleFont":"Liberation Mono","titleFontSize":34,"titleColor":"#555555","titleX":-49,"titleY":475,"titleBaseline":"bottom"}}},
"layer":[
{"data":{"values":[{"x":0.0714,"x2":2.234,"y":77.47,"y2":-12.93}]},"mark":{"type":"rect","fill":{"gradient":"linear","x1":0,"y1":0,"x2":0,"y2":1,"stops":[{"offset":0,"color":"#000000"},{"offset":0.1,"color":"#000000"},{"offset":0.45,"color":"#2a3a57"},{"offset":0.86,"color":"#546c9a"},{"offset":1,"color":"#607bae"}]}},"encoding":{"x2":{"field":"x2"},"y2":{"field":"y2"}}},
{"data":{"values":[{"x":0.0981,"x2":2.234,"y":76.6,"y2":-1.31}]},"mark":{"type":"rect","fill":"#ffffff"},"encoding":{"x2":{"field":"x2"},"y2":{"field":"y2"}}},
{"data":{"name":"green"},"mark":{"type":"area","interpolate":"step-after","opacity":1,"fill":{"gradient":"linear","x1":0,"y1":0,"x2":1.173,"y2":0.284,"stops":[{"offset":0,"color":"#ffffff"},{"offset":0.0025,"color":"#00ff00"},{"offset":0.005,"color":"#ffffff"},{"offset":0.023,"color":"#ffffff"},{"offset":0.0255,"color":"#00ff00"},{"offset":0.028,"color":"#ffffff"},{"offset":0.046,"color":"#ffffff"},{"offset":0.0485,"color":"#00ff00"},{"offset":0.051,"color":"#ffffff"},{"offset":0.069,"color":"#ffffff"},{"offset":0.0715,"color":"#00ff00"},{"offset":0.074,"color":"#ffffff"},{"offset":0.092,"color":"#ffffff"},{"offset":0.0945,"color":"#00ff00"},{"offset":0.097,"color":"#ffffff"},{"offset":0.115,"color":"#ffffff"},{"offset":0.1175,"color":"#00ff00"},{"offset":0.12,"color":"#ffffff"},{"offset":0.138,"color":"#ffffff"},{"offset":0.1405,"color":"#00ff00"},{"offset":0.143,"color":"#ffffff"},{"offset":0.161,"color":"#ffffff"},{"offset":0.1635,"color":"#00ff00"},{"offset":0.166,"color":"#ffffff"},{"offset":0.184,"color":"#ffffff"},{"offset":0.1865,"color":"#00ff00"},{"offset":0.189,"color":"#ffffff"},{"offset":0.207,"color":"#ffffff"},{"offset":0.2095,"color":"#00ff00"},{"offset":0.212,"color":"#ffffff"},{"offset":0.23,"color":"#ffffff"},{"offset":0.2325,"color":"#00ff00"},{"offset":0.235,"color":"#ffffff"},{"offset":0.253,"color":"#ffffff"},{"offset":0.2555,"color":"#00ff00"},{"offset":0.258,"color":"#ffffff"},{"offset":0.276,"color":"#ffffff"},{"offset":0.2785,"color":"#00ff00"},{"offset":0.281,"color":"#ffffff"},{"offset":0.299,"color":"#ffffff"},{"offset":0.3015,"color":"#00ff00"},{"offset":0.304,"color":"#ffffff"},{"offset":0.322,"color":"#ffffff"},{"offset":0.3245,"color":"#00ff00"},{"offset":0.327,"color":"#ffffff"},{"offset":0.345,"color":"#ffffff"},{"offset":0.3475,"color":"#00ff00"},{"offset":0.35,"color":"#ffffff"},{"offset":0.368,"color":"#ffffff"},{"offset":0.3705,"color":"#00ff00"},{"offset":0.373,"color":"#ffffff"},{"offset":0.391,"color":"#ffffff"},{"offset":0.3935,"color":"#00ff00"},{"offset":0.396,"color":"#ffffff"},{"offset":0.414,"color":"#ffffff"},{"offset":0.4165,"color":"#00ff00"},{"offset":0.419,"color":"#ffffff"},{"offset":0.437,"color":"#ffffff"},{"offset":0.4395,"color":"#00ff00"},{"offset":0.442,"color":"#ffffff"},{"offset":0.46,"color":"#ffffff"},{"offset":0.4625,"color":"#00ff00"},{"offset":0.465,"color":"#ffffff"},{"offset":0.483,"color":"#ffffff"},{"offset":0.4855,"color":"#00ff00"},{"offset":0.488,"color":"#ffffff"},{"offset":0.506,"color":"#ffffff"},{"offset":0.5085,"color":"#00ff00"},{"offset":0.511,"color":"#ffffff"},{"offset":0.529,"color":"#ffffff"},{"offset":0.5315,"color":"#00ff00"},{"offset":0.534,"color":"#ffffff"},{"offset":0.552,"color":"#ffffff"},{"offset":0.5545,"color":"#00ff00"},{"offset":0.557,"color":"#ffffff"},{"offset":0.575,"color":"#ffffff"},{"offset":0.5775,"color":"#00ff00"},{"offset":0.58,"color":"#ffffff"},{"offset":0.598,"color":"#ffffff"},{"offset":0.6005,"color":"#00ff00"},{"offset":0.603,"color":"#ffffff"},{"offset":0.621,"color":"#ffffff"},{"offset":0.6235,"color":"#00ff00"},{"offset":0.626,"color":"#ffffff"},{"offset":0.644,"color":"#ffffff"},{"offset":0.6465,"color":"#00ff00"},{"offset":0.649,"color":"#ffffff"},{"offset":0.667,"color":"#ffffff"},{"offset":0.6695,"color":"#00ff00"},{"offset":0.672,"color":"#ffffff"},{"offset":0.69,"color":"#ffffff"},{"offset":0.6925,"color":"#00ff00"},{"offset":0.695,"color":"#ffffff"},{"offset":0.713,"color":"#ffffff"},{"offset":0.7155,"color":"#00ff00"},{"offset":0.718,"color":"#ffffff"},{"offset":0.736,"color":"#ffffff"},{"offset":0.7385,"color":"#00ff00"},{"offset":0.741,"color":"#ffffff"},{"offset":0.759,"color":"#ffffff"},{"offset":0.7615,"color":"#00ff00"},{"offset":0.764,"color":"#ffffff"},{"offset":0.782,"color":"#ffffff"},{"offset":0.7845,"color":"#00ff00"},{"offset":0.787,"color":"#ffffff"},{"offset":0.805,"color":"#ffffff"},{"offset":0.8075,"color":"#00ff00"},{"offset":0.81,"color":"#ffffff"},{"offset":0.828,"color":"#ffffff"},{"offset":0.8305,"color":"#00ff00"},{"offset":0.833,"color":"#ffffff"},{"offset":0.851,"color":"#ffffff"},{"offset":0.8535,"color":"#00ff00"},{"offset":0.856,"color":"#ffffff"},{"offset":0.874,"color":"#ffffff"},{"offset":0.8765,"color":"#00ff00"},{"offset":0.879,"color":"#ffffff"},{"offset":0.897,"color":"#ffffff"},{"offset":0.8995,"color":"#00ff00"},{"offset":0.902,"color":"#ffffff"},{"offset":0.92,"color":"#ffffff"},{"offset":1,"color":"#ffffff"}]}}},
{"data":{"values":[{"x":0.4,"x2":2.2,"y":0,"y2":70.3}]},"mark":{"type":"rect","fill":"transparent","stroke":"#555555","strokeWidth":1.5},"encoding":{"x2":{"field":"x2"},"y2":{"field":"y2"}}},
{"data":{"name":"hxticks"},"mark":{"type":"rule","stroke":"#555555","strokeWidth":1},"encoding":{"y2":{"field":"y2"}}},
{"data":{"name":"hyticks"},"mark":{"type":"rule","stroke":"#555555","strokeWidth":1},"encoding":{"x2":{"field":"x2"}}},
{"data":{"name":"black"},"mark":{"type":"line","interpolate":"step-after","stroke":"#555555","strokeWidth":1.5}},
{"data":{"name":"green"},"mark":{"type":"line","interpolate":"step-after","stroke":"#00ff00","strokeWidth":1.5}},
{"data":{"values":[{"x":0.293,"y":67.86,"text":"(for z’ <22.5 galaxies)"}]},"mark":{"type":"text","align":"left","baseline":"alphabetic","font":"Liberation Sans","fontSize":48,"fill":"#000000"},"encoding":{"text":{"field":"text"}}},
{"data":{"values":[{"x":0.442,"y":60,"text":"red sequence"},{"x":0.404,"y":34.67,"text":"green valley"},{"x":0.518,"y":17.55,"text":"blue cloud"}]},"mark":{"type":"text","align":"left","baseline":"alphabetic","font":"Liberation Sans","fontSize":48,"fontWeight":"bold"},"encoding":{"text":{"field":"text"},"color":{"field":"text","type":"nominal","legend":null,"scale":{"domain":["red sequence","green valley","blue cloud"],"range":["#ff0000","#00ff00","#0000ff"]}}}}
]},
{"data":{"name":"hyticksR"},"mark":{"type":"rule","stroke":"#555555","strokeWidth":1},
"encoding":{"x":{"field":"x","type":"quantitative","scale":{"domain":[0.4,2.2],"range":[86,557],"nice":false,"zero":false},"axis":null},"x2":{"field":"x2"},
"y":{"field":"y","type":"quantitative","scale":{"domain":[0,70.3],"range":[887,82],"nice":false,"zero":false},"axis":{"zindex":1,"orient":"right","offset":-1067,"values":[0,20,40,60],"labelAngle":-90,"labelAlign":"center","labelBaseline":"top","labelFont":"DejaVu Serif","labelFontSize":26,"labelColor":"#555555","labelPadding":9,"title":null}}}},
{"encoding":{"x":{"field":"x","type":"quantitative","scale":{"domain":[18,26],"range":[715,1580],"nice":false,"zero":false},"axis":{"orient":"bottom","offset":-114,"values":[18,19,20,21,22,23,24,25,26],"labelFont":"DejaVu Serif","labelFontSize":29,"labelColor":"#555555","labelPadding":15,"title":"z' [mag]","titleFont":"DejaVu Serif","titleFontSize":37,"titleColor":"#555555","titleX":1164,"titleY":91,"titleBaseline":"alphabetic"}},
"y":{"field":"y","type":"quantitative","scale":{"domain":[0,2.204],"range":[921,45],"nice":false,"zero":false},"axis":{"orient":"left","offset":-715,"values":[0,0.5,1,1.5,2],"labelExpr":"''+datum.value","labelFont":"DejaVu Serif","labelFontSize":29,"labelColor":"#555555","labelPadding":20,"title":"R−z' [mag]","titleFont":"DejaVu Serif","titleFontSize":37,"titleColor":"#555555","titleX":-88,"titleY":484,"titleBaseline":"bottom"}}},
"layer":[
{"data":{"values":[{"x":18,"x2":26,"y":0,"y2":2.204}]},"mark":{"type":"rect","fill":"transparent","stroke":"#555555","strokeWidth":2.5},"encoding":{"x2":{"field":"x2"},"y2":{"field":"y2"}}},
{"data":{"name":"xticks"},"mark":{"type":"rule","stroke":"#555555","strokeWidth":1.2},"encoding":{"y2":{"field":"y2"}}},
{"data":{"name":"yticks"},"mark":{"type":"rule","stroke":"#555555","strokeWidth":1.2},"encoding":{"x2":{"field":"x2"}}},
{"data":{"values":[{"x":18,"y":1.819},{"x":26,"y":1.421}]},"mark":{"type":"line","stroke":"#ff4444","strokeWidth":1.6}},
{"data":{"values":[{"x":18,"y":2.02,"s":"up"},{"x":26,"y":1.62,"s":"up"},{"x":18,"y":1.617,"s":"low"},{"x":26,"y":1.22,"s":"low"}]},"mark":{"type":"line","stroke":"#ff4444","strokeWidth":1.6,"strokeDash":[36,13],"strokeDashOffset":14},"encoding":{"detail":{"field":"s"}}},
{"data":{"values":[{"x":22.5,"y":0,"y2":2.204}]},"mark":{"type":"rule","stroke":"#444444","strokeWidth":1.5,"strokeDash":[2,5]},"encoding":{"y2":{"field":"y2"}}},
{"data":{"values":[{"x":24.9,"y":0,"y2":2.204}]},"mark":{"type":"rule","stroke":"#444444","strokeWidth":1.5,"strokeDash":[15,10]},"encoding":{"y2":{"field":"y2"}}},
{"data":{"values":[{"x":24.94,"y":1.907},{"x":25.98,"y":0.865}]},"mark":{"type":"line","stroke":"#444444","strokeWidth":1.3,"strokeDash":[16,10]}},
{"data":{"name":"dots"},"mark":{"type":"circle","size":100,"opacity":1,"color":"#000000"}},
{"data":{"name":"circles"},"mark":{"type":"point","shape":"circle","filled":false,"stroke":"#00ee00","strokeWidth":2,"opacity":1},"encoding":{"size":{"field":"flux","type":"quantitative","legend":null,"scale":{"domain":[0,1600],"range":[0,1600]}}}},
{"data":{"name":"triangles"},"mark":{"type":"point","shape":"triangle-up","filled":false,"stroke":"#00ee00","strokeWidth":2.1,"opacity":1},"encoding":{"size":{"field":"flux","type":"quantitative","legend":null,"scale":{"domain":[0,1600],"range":[0,1600]}}}},
{"data":{"values":[{"x":17.334,"y":1.914,"y2":0.335}]},"mark":{"type":"rule","stroke":"#000000","strokeWidth":3.5},"encoding":{"y2":{"field":"y2"}}},
{"data":{"values":[{"x":19.526,"x2":24.87,"y":-0.151}]},"mark":{"type":"rule","stroke":"#000000","strokeWidth":3.5},"encoding":{"x2":{"field":"x2"}}},
{"data":{"values":[{"x":17.334,"y":1.938,"shape":"triangle-up"},{"x":17.334,"y":0.311,"shape":"triangle-down"},{"x":19.498,"y":-0.151,"shape":"triangle-left"},{"x":24.9,"y":-0.151,"shape":"triangle-right"}]},"mark":{"type":"point","filled":true,"size":676,"opacity":1,"color":"#000000"},"encoding":{"shape":{"field":"shape","type":"nominal","legend":null,"scale":null}}},
{"data":{"values":[{"x":18.638,"y":0.506,"s":"c"},{"x":18.694,"y":0.606,"s":"c"},{"x":18.786,"y":0.702,"s":"c"},{"x":18.943,"y":0.808,"s":"c"},{"x":19.091,"y":0.85,"s":"c"},{"x":19.249,"y":0.878,"s":"c"},{"x":19.406,"y":0.901,"s":"c"},{"x":19.591,"y":0.913,"s":"c"},{"x":19.868,"y":0.928,"s":"c"},{"x":19.572,"y":0.946,"s":"a"},{"x":19.868,"y":0.928,"s":"a"},{"x":19.637,"y":0.875,"s":"b"},{"x":19.868,"y":0.928,"s":"b"}]},"mark":{"type":"line","interpolate":"cardinal","stroke":"#333399","strokeWidth":4.5,"strokeCap":"round"},"encoding":{"detail":{"field":"s"}}},
{"data":{"values":[{"x":19.424,"y":1.909,"s":"c"},{"x":19.48,"y":1.945,"s":"c"},{"x":19.572,"y":1.99,"s":"c"},{"x":19.711,"y":2.035,"s":"c"},{"x":19.859,"y":2.065,"s":"c"},{"x":19.424,"y":1.909,"s":"a"},{"x":19.424,"y":1.985,"s":"a"},{"x":19.424,"y":1.909,"s":"b"},{"x":19.655,"y":1.957,"s":"b"}]},"mark":{"type":"line","interpolate":"cardinal","stroke":"#ff0000","strokeWidth":3},"encoding":{"detail":{"field":"s"}}},
{"data":{"values":[{"x":19.859,"x2":26.65,"y":1.912,"y2":2.254}]},"mark":{"type":"rect","fill":"#ffcc00","stroke":"#000000","strokeWidth":2,"cornerRadius":20},"encoding":{"x2":{"field":"x2"},"y2":{"field":"y2"}}},
{"data":{"values":[{"x":18.176,"x2":23.475,"y":0.123,"y2":0.506}]},"mark":{"type":"rect","fill":"#ccffff","stroke":"#000000","strokeWidth":2,"cornerRadius":20},"encoding":{"x2":{"field":"x2"},"y2":{"field":"y2"}}},
{"data":{"values":[{"x":20.17,"y":2.116,"text":"15um detection is rare in the red sequence,"},{"x":20.17,"y":1.97,"text":"but some galaxies have MIR emission"},{"x":18.49,"y":0.362,"text":"Many 15um detections"},{"x":18.49,"y":0.216,"text":"from blue galaxies"},{"x":17.925,"y":-0.199,"text":"bright"},{"x":25.29,"y":-0.199,"text":"faint"}]},"mark":{"type":"text","align":"left","baseline":"alphabetic","font":"Liberation Sans","fontSize":48,"fill":"#000000"},"encoding":{"text":{"field":"text"}}},
{"data":{"values":[{"x":16.95,"y":2.038,"text":"red"},{"x":16.806,"y":0.113,"text":"blue"}]},"mark":{"type":"text","align":"left","baseline":"alphabetic","font":"Liberation Sans","fontSize":48,"fontWeight":"bold"},"encoding":{"text":{"field":"text"},"color":{"field":"text","type":"nominal","legend":null,"scale":{"domain":["red","blue"],"range":["#ff0000","#333399"]}}}}
]}
],
"resolve":{"scale":{"x":"independent","y":"independent","color":"independent","size":"independent"}}}
